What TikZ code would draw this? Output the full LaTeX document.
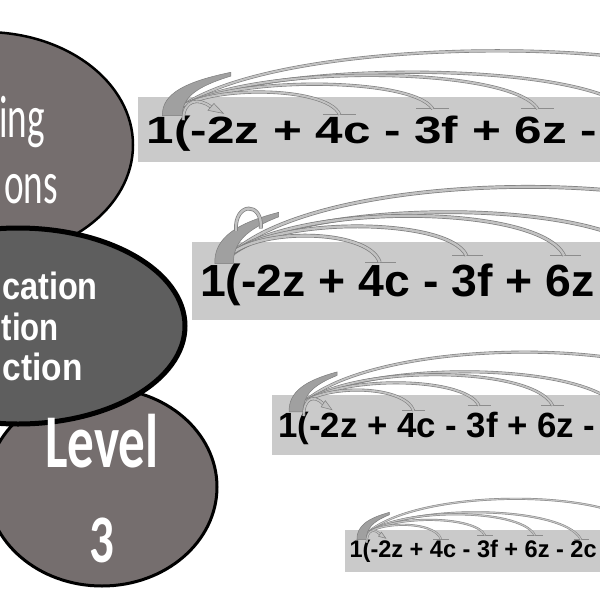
\documentclass[tikz,border=0pt]{standalone}
\usepackage{fontspec}
\usepackage{graphicx}
\usetikzlibrary{shapes.geometric}
\newfontfamily\eqfont{Liberation Sans}
\newfontfamily\calfont{Carlito}
\definecolor{ellA}{RGB}{117,110,110}
\definecolor{ellB}{RGB}{94,94,94}
\definecolor{boxgray}{RGB}{202,202,202}
\definecolor{ribedge}{RGB}{125,125,125}
\definecolor{ribfill}{RGB}{194,194,194}
\definecolor{blobfill}{RGB}{160,160,160}
\definecolor{barcol}{RGB}{140,140,140}
\tikzset{
  rib1/.style={draw=ribedge, line width=0.6pt, double=ribfill, double distance=2.0pt},
  rib2/.style={draw=ribedge, line width=0.7pt, double=ribfill, double distance=2.4pt},
  rib3/.style={draw=ribedge, line width=0.6pt, double=ribfill, double distance=1.8pt},
  rib4/.style={draw=ribedge, line width=0.45pt, double=ribfill, double distance=1.2pt},
  barline/.style={draw=barcol, line width=1.0pt},
  blob/.style={fill=blobfill, draw=ribedge, line width=0.5pt},
  tiphead/.style={fill=ribfill, draw=ribedge, line width=0.5pt},
  eqtext/.style={inner sep=0pt, anchor=base west, text=black},
  elltext/.style={inner sep=0pt, text=white},
  ellshape/.style={ellipse, draw=black, inner sep=0pt}
}
\newcommand\eqarcs[2]{%
  \coordinate (#1s) at (0.55,-0.80);
  \coordinate (#1b4) at (3.90,-0.75);
  \coordinate (#1b3) at (5.78,-0.90);
  \coordinate (#1b6) at (7.90,-0.90);
  \coordinate (#1b2) at (9.87,-0.72);
  \coordinate (#1bf) at (12.8,-0.90);
  \draw[barline] (3.57,-0.75) -- (4.23,-0.75);
  \draw[barline] (5.45,-0.90) -- (6.11,-0.90);
  \draw[barline] (7.57,-0.90) -- (8.23,-0.90);
  \draw[barline] (9.54,-0.72) -- (10.20,-0.72);
  \draw[#2] (#1s) .. controls (2.39,-2.95) and (11.8,-2.95) .. (#1bf);
  \draw[#2] (#1s) .. controls (1.95,-2.23) and (9.12,-2.23) .. (#1b2);
  \draw[#2] (#1s) .. controls (1.65,-2.09) and (7.31,-2.09) .. (#1b6);
  \draw[#2] (#1s) .. controls (1.33,-1.78) and (5.36,-1.78) .. (#1b3);
  \draw[#2] (#1s) .. controls (1.05,-1.53) and (3.63,-1.53) .. (#1b4);
  \filldraw[blob] (0.32,-0.72) .. controls (0.30,-1.30) and (0.80,-1.62) .. (1.70,-1.86)
     -- (1.70,-1.76) .. controls (1.00,-1.48) and (0.72,-1.20) .. (0.72,-0.72) -- cycle;
}
\newcommand\looparrow[2]{%
  \coordinate (#1la) at (0.74,-0.60);
  \coordinate (#1lb) at (1.30,-0.95);
  \draw[#2] (#1la) .. controls (0.74,-1.15) and (1.05,-1.20) .. (#1lb);
  \filldraw[tiphead] (1.55,-0.78) -- (1.24,-0.86) -- (1.36,-1.04) -- cycle;
}
\begin{document}
\begin{tikzpicture}[x=1pt,y=-1pt]
\useasboundingbox (0,0) rectangle (600,600);
\clip (0,0) rectangle (600,600);
\fill[white] (0,0) rectangle (600,600);

% ellipses
\node[ellshape, fill=ellA, line width=2.5pt, minimum width=296pt, minimum height=226pt] (topell) at (-15,145) {};
\node[ellshape, fill=ellA, line width=3pt, minimum width=230pt, minimum height=198pt] (lvlell) at (102,487) {};
\node[ellshape, fill=ellB, line width=5pt, minimum width=334pt, minimum height=196pt] (midell) at (18,326) {};

\node[elltext, anchor=base east] (t1) at (45,137) {\calfont\fontsize{60}{60}\selectfont\scalebox{0.62}[1]{ing}};
\node[elltext, anchor=base east] (t2) at (58,203) {\calfont\fontsize{60}{60}\selectfont\scalebox{0.62}[1]{ons}};
\node[elltext, anchor=base east] (m1) at (98,299) {\eqfont\bfseries\fontsize{38}{38}\selectfont\scalebox{0.855}[1]{cation}};
\node[elltext, anchor=base east] (m2) at (59,340) {\eqfont\bfseries\fontsize{38}{38}\selectfont\scalebox{0.82}[1]{tion}};
\node[elltext, anchor=base east] (m3) at (83,380) {\eqfont\bfseries\fontsize{38}{38}\selectfont\scalebox{0.88}[1]{ction}};
\node[elltext, anchor=base] (l1) at (102,467) {\calfont\bfseries\fontsize{76}{76}\selectfont\scalebox{0.7}[1]{Level}};
\node[elltext, anchor=base] (l2) at (102,562) {\calfont\bfseries\fontsize{68}{68}\selectfont\scalebox{0.72}[1]{3}};

% boxes
\fill[boxgray] (138,97) rectangle (600,162);
\fill[boxgray] (192,242) rectangle (600,320);
\fill[boxgray] (272,395) rectangle (600,455);
\fill[boxgray] (345,530) rectangle (600,572);

% expressions
\node[eqtext] (e1) at (146.6,143) {\eqfont\bfseries\fontsize{38}{38}\selectfont\scalebox{1.30}[1]{1(-2z + 4c - 3f + 6z -}};
\node[eqtext] (e2) at (200,296) {\eqfont\bfseries\fontsize{45}{45}\selectfont\scalebox{1.03}[1]{1(-2z + 4c - 3f + 6z}};
\node[eqtext] (e3) at (278,437) {\eqfont\bfseries\fontsize{35}{35}\selectfont\scalebox{0.995}[1]{1(-2z + 4c - 3f + 6z -}};
\node[eqtext] (e4) at (349.4,557) {\eqfont\bfseries\fontsize{24}{24}\selectfont\scalebox{0.98}[1]{1(-2z + 4c - 3f + 6z - 2c}};

% arcs
\begin{scope}[shift={(146.6,143)}, xscale=49.5, yscale=38]
  \eqarcs{ra}{rib1}
  \looparrow{ra}{rib1}
\end{scope}
\begin{scope}[shift={(200,296)}, xscale=46.3, yscale=45]
  \eqarcs{rb}{rib2}
  \coordinate (rbla) at (0.78,-1.45);
  \coordinate (rblb) at (1.32,-1.50);
  \draw[rib2] (rbla) .. controls (0.74,-2.1) and (1.36,-2.1) .. (rblb);
\end{scope}
\begin{scope}[shift={(278,437)}, xscale=34.8, yscale=35]
  \eqarcs{rc}{rib3}
  \looparrow{rc}{rib3}
\end{scope}
\begin{scope}[shift={(349.4,557)}, xscale=23.5, yscale=24]
  \eqarcs{rd}{rib4}
  \looparrow{rd}{rib4}
\end{scope}
\end{tikzpicture}
\end{document}
